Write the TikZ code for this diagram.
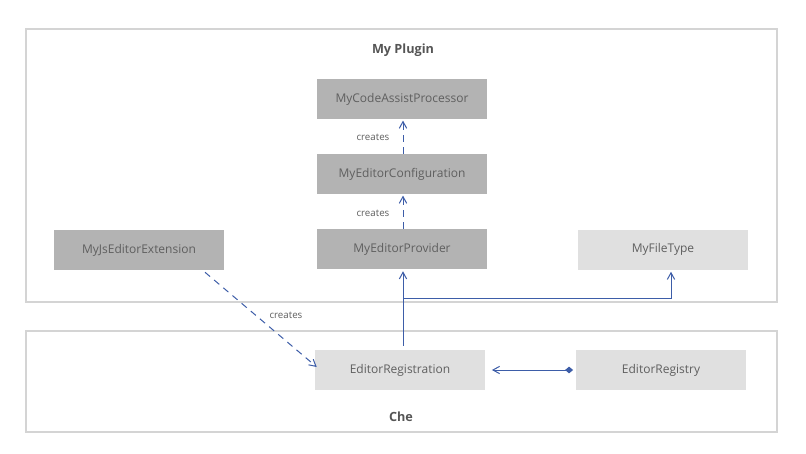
\documentclass[tikz,border=0pt]{standalone}
\usepackage{fontspec}
\setmainfont{Open Sans}
\usetikzlibrary{arrows.meta}
\definecolor{dk}{HTML}{B3B3B3}
\definecolor{lt}{HTML}{E0E0E0}
\definecolor{frm}{HTML}{D4D4D4}
\definecolor{txt}{HTML}{5F5F5F}
\definecolor{ttl}{HTML}{555555}
\definecolor{ln}{HTML}{3D5DA8}
\tikzset{
  x=0.75pt, y=-0.75pt,
  box/.style={minimum width=127.5pt, minimum height=30pt, inner sep=0pt, text=txt, font=\fontsize{9}{11}\selectfont},
  dkbox/.style={box, fill=dk},
  ltbox/.style={box, fill=lt},
  frame/.style={draw=frm, line width=1.5pt},
  title/.style={text=ttl, font=\fontsize{9.5}{11}\bfseries\selectfont},
  lbl/.style={text=txt, font=\fontsize{7.3}{9}\selectfont},
  conn/.style={draw=ln, line width=0.75pt, -{Straight Barb[length=5pt,width=5.5pt]}},
  dconn/.style={conn, dash pattern=on 5pt off 4pt},
}
\begin{document}
\begin{tikzpicture}
\useasboundingbox (0,0) rectangle (806,453);
\fill[white] (0,0) rectangle (806,453);
% frames
\draw[frame] (26,29) rectangle (777,302);
\draw[frame] (26,331) rectangle (777,432);
\node[title] (plugin) at (403,50) {My Plugin};
\node[title] (che) at (401,417) {Che};
% nodes
\node[dkbox] (mcap) at (402,99) {MyCodeAssistProcessor};
\node[dkbox] (mec) at (402,174) {MyEditorConfiguration};
\node[dkbox] (mep) at (402,249) {MyEditorProvider};
\node[dkbox] (mjs) at (139,250) {MyJsEditorExtension};
\node[ltbox] (mft) at (663,249.5) {MyFileType};
\node[ltbox] (er) at (400,370) {EditorRegistration};
\node[ltbox] (ereg) at (661,370) {EditorRegistry};
% connectors
\draw[dconn, shorten >=1pt] ([xshift=0.75pt]mec.north) -- node[lbl, left=6.5pt, pos=0.48] {creates} ([xshift=0.75pt]mcap.south);
\draw[dconn, shorten >=1pt] ([xshift=0.75pt]mep.north) -- node[lbl, left=6.5pt, pos=0.45] {creates} ([xshift=0.75pt]mec.north |- mec.south);
\draw[conn, shorten <=3pt, shorten >=1.5pt] ([xshift=2.25pt]er.north) -- ([xshift=0.75pt]mep.south);
\coordinate (j) at (403,298);
\draw[conn, shorten >=1.5pt] (j) -| ([xshift=6pt]mft.south);
\draw[dconn] ([xshift=49.5pt,yshift=-1.5pt]mjs.south) -- node[lbl, pos=0.45, right=7pt] {creates} ([xshift=1.5pt,yshift=2.25pt]er.west);
\draw[conn, {Diamond[length=6pt,width=5pt]}-{Straight Barb[length=5pt,width=5.5pt]}, shorten <=2pt, shorten >=5pt] (ereg.west) -- (er.east);
\end{tikzpicture}
\end{document}
